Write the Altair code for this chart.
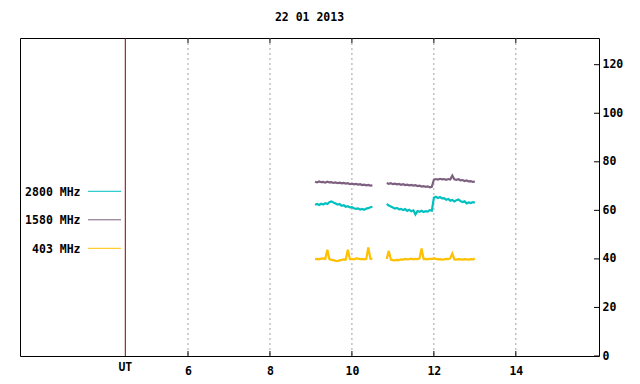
import altair as alt
import pandas as pd

FONT = "DejaVu Sans Mono"

title_text = "22 01 2013"
x_tick_values = [6, 8, 10, 12, 14]
y_tick_values = [0, 20, 40, 60, 80, 100, 120]
ut_position = 4.47
x_domain = [1.9, 16.03]
y_domain = [0, 131]

series_names = ["2800 MHz", "1580 MHz", "403 MHz"]
series_colors = ["#00c0c0", "#7e6180", "#ffc000"]

segment_starts = [9.10, 10.85]
sample_step = 0.05

# 1580 MHz (purple trace)
f1580_seg1 = [71.8, 71.5, 71.9, 71.6, 71.7, 71.4, 71.8, 71.5, 71.6, 71.3,
              71.5, 71.2, 71.4, 71.1, 71.3, 71.0, 71.2, 70.8, 71.0, 70.7,
              70.9, 70.6, 70.8, 70.4, 70.6, 70.3, 70.5, 70.2, 70.3]
f1580_seg2 = [71.3, 70.9, 71.2, 70.8, 71.0, 70.7, 70.9, 70.5, 70.8, 70.4,
              70.6, 70.3, 70.5, 70.2, 70.4, 70.0, 70.2, 69.8, 70.0, 69.7,
              69.9, 69.5, 69.7,
              72.6, 72.9, 72.7, 73.0, 72.8, 72.9, 72.6, 72.9, 72.7, 74.3,
              72.8, 72.6, 72.8, 72.4, 72.5, 72.1, 72.3, 71.9, 72.0, 71.7, 71.8]

# 2800 MHz (cyan trace)
f2800_seg1 = [62.3, 62.6, 62.2, 62.7, 62.4, 62.9, 62.6, 63.4, 63.7, 63.2,
              62.8, 62.4, 62.6, 61.9, 62.1, 61.5, 61.7, 61.2, 61.3, 60.9,
              60.6, 60.8, 60.3, 60.6, 60.2, 60.7, 60.9, 61.3, 61.5]
f2800_seg2 = [62.7, 62.0, 61.6, 61.2, 60.7, 61.0, 60.4, 60.6, 60.1, 60.5,
              59.8, 60.2, 59.6, 60.0, 58.3, 59.7, 59.4, 59.8, 59.3, 59.7,
              59.5, 60.1, 59.9,
              65.2, 65.6, 65.1, 65.5, 64.9, 65.0, 64.4, 64.7, 64.0, 64.3,
              63.7, 64.2, 64.5, 63.8, 63.4, 63.7, 62.9, 63.3, 63.0, 63.4, 63.2]

# 403 MHz (yellow trace)
f403_seg1 = [39.9, 40.0, 39.8, 40.1, 40.2, 40.0, 43.8, 39.9, 39.6, 39.5,
             39.2, 39.1, 39.4, 39.6, 39.8, 39.7, 43.8, 39.9, 40.0, 39.8,
             40.2, 40.1, 39.9, 40.0, 39.8, 40.0, 44.7, 40.1, 40.0]
f403_seg2 = [40.0, 43.3, 39.7, 39.5, 39.4, 39.6, 39.5, 39.8, 39.7, 40.0,
             39.8, 39.9, 40.1, 39.8, 40.0, 39.9, 40.2, 44.3, 39.9, 40.0,
             39.8, 40.1, 39.9, 40.3, 40.0, 39.8, 39.9, 39.7, 39.8, 40.0,
             39.9, 40.3, 42.2, 39.8, 39.7, 39.9, 39.8, 39.7, 39.9, 39.8,
             39.7, 39.9, 39.8, 40.1]

series_data = {
    "2800 MHz": [f2800_seg1, f2800_seg2],
    "1580 MHz": [f1580_seg1, f1580_seg2],
    "403 MHz": [f403_seg1, f403_seg2],
}

rows = []
for name, segs in series_data.items():
    for k, (start, vals) in enumerate(zip(segment_starts, segs)):
        for i, v in enumerate(vals):
            rows.append({"series": name, "segment": k,
                         "t": round(start + i * sample_step, 3), "flux": v})
df = pd.DataFrame(rows)

xs = alt.Scale(domain=x_domain, nice=False, zero=False)
ys = alt.Scale(domain=y_domain, nice=False, zero=False)

W, H = 579, 318
label_style = dict(labelFont=FONT, labelFontSize=11.5, labelFontWeight="bold",
                   labelColor="black")
x_axis = alt.Axis(values=x_tick_values, ticks=False, grid=False, domain=False,
                  labelPadding=9, labelFlush=False, title=None, **label_style)
y_axis = alt.Axis(orient="right", values=y_tick_values, ticks=False, grid=False,
                  domain=False, labelPadding=3, title=None, **label_style)

grid = alt.Chart(pd.DataFrame({"t": x_tick_values})).mark_rule(
    color="#a0a0a0", strokeDash=[2, 3], strokeWidth=1
).encode(x=alt.X("t:Q", scale=xs, axis=x_axis))

ut_df = pd.DataFrame({"t": [ut_position]})
ut_line = alt.Chart(ut_df).mark_rule(color="#8b0000", strokeWidth=1).encode(
    x=alt.X("t:Q", scale=xs, axis=x_axis))

lines = alt.Chart(df).mark_line(strokeWidth=2.2).encode(
    x=alt.X("t:Q", scale=xs, axis=x_axis),
    y=alt.Y("flux:Q", scale=ys, axis=y_axis),
    color=alt.Color("series:N", scale=alt.Scale(domain=series_names, range=series_colors),
                    legend=None),
    detail="segment:N",
)

tick_df = pd.DataFrame({"t": x_tick_values})
bottom_ticks = alt.Chart(tick_df).mark_rule(color="black").encode(
    x=alt.X("t:Q", scale=xs, axis=x_axis), y=alt.value(H), y2=alt.value(H - 5))
top_ticks = alt.Chart(tick_df).mark_rule(color="black").encode(
    x=alt.X("t:Q", scale=xs, axis=x_axis), y=alt.value(0), y2=alt.value(5))
right_ticks = alt.Chart(pd.DataFrame({"flux": y_tick_values})).mark_rule(color="black").encode(
    y=alt.Y("flux:Q", scale=ys, axis=y_axis), x=alt.value(W), x2=alt.value(W - 5))

ut_text = alt.Chart(ut_df).mark_text(
    font=FONT, fontSize=11.5, fontWeight="bold", color="black", baseline="middle"
).encode(x=alt.X("t:Q", scale=xs, axis=x_axis), y=alt.value(330), text=alt.value("UT"))

legend_layers = []
for i, (name, color) in enumerate(zip(series_names, series_colors)):
    ly = 153.3 + i * 28.5
    one = pd.DataFrame({"label": [name]})
    legend_layers.append(
        alt.Chart(one).mark_text(align="right", baseline="middle", font=FONT,
                                 fontSize=11.5, fontWeight="bold", color="black")
        .encode(x=alt.value(60.5), y=alt.value(ly + 1.3), text="label:N"))
    legend_layers.append(
        alt.Chart(one).mark_rule(color=color, strokeWidth=1)
        .encode(x=alt.value(68), x2=alt.value(101), y=alt.value(ly)))

chart = alt.layer(
    grid, ut_line, lines, bottom_ticks, top_ticks, right_ticks, ut_text, *legend_layers
).properties(
    width=W, height=H,
    title=alt.Title(title_text, font=FONT, fontSize=11.5, fontWeight="bold",
                    color="black", anchor="middle", offset=14),
    autosize=alt.AutoSizeParams(type="none"),
    padding={"left": 12, "top": 30, "right": 30, "bottom": 20},
    background="white",
).configure_view(stroke="black", strokeWidth=1)

chart.save("out.html", embed_options={"renderer": "svg", "actions": False})
